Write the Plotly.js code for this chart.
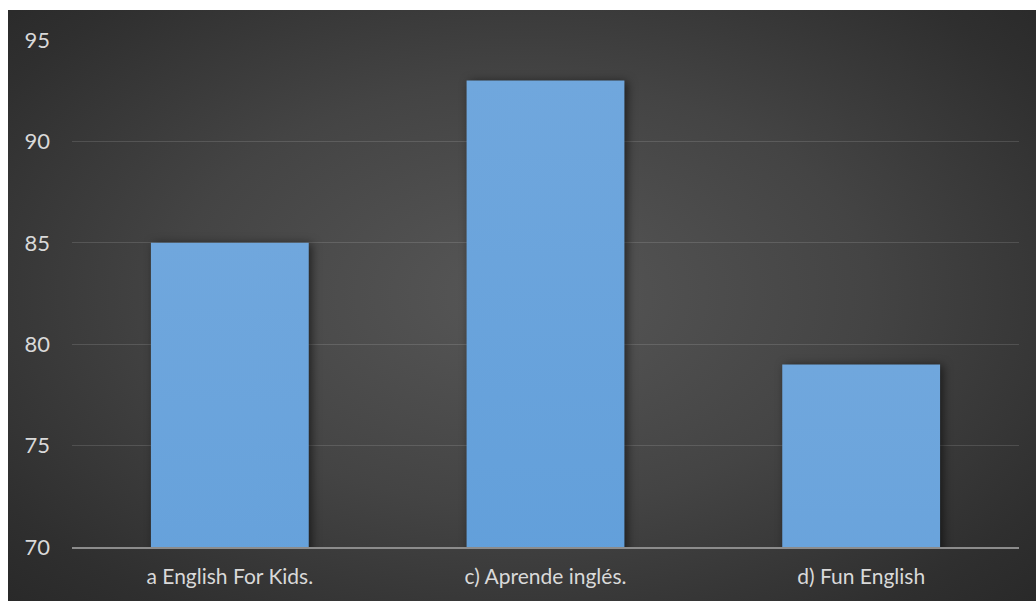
<!DOCTYPE html>
<html>
<head>
<meta charset="utf-8">
<script src="https://cdn.plot.ly/plotly-3.0.1.min.js"></script>
<style>
  html, body { margin: 0; padding: 0; background: #ffffff; }
  #chart {
    position: absolute; left: 8px; top: 10px;
    width: 1028px; height: 591px;
    background: radial-gradient(ellipse 75% 80% at 50% 48%, #575757 0%, #444444 45%, #2f2f2f 80%, #262626 100%);
  }
  #chart .trace.bars .point path {
    filter: drop-shadow(3px 1px 5px rgba(0,0,0,0.55));
  }
</style>
</head>
<body>
<div id="chart"></div>
<script>
// Survey results per app
const categories = ["a English For Kids.", "c) Aprende inglés.", "d) Fun English"];
const values = [85, 93, 79];
const yTicks = [70, 75, 80, 85, 90, 95];

const trace = {
  type: "bar",
  x: categories,
  y: values,
  marker: { color: "#5b9bd5", line: { width: 0 } },
  hoverinfo: "x+y"
};

const layout = {
  width: 1028,
  height: 591,
  margin: { l: 64, r: 17, t: 30, b: 54 },
  paper_bgcolor: "rgba(0,0,0,0)",
  plot_bgcolor: "rgba(0,0,0,0)",
  bargap: 0.5,
  showlegend: false,
  font: { family: "Lato, sans-serif", color: "#d9d9d9" },
  xaxis: {
    showgrid: false,
    showline: true,
    linecolor: "#8c8c8c",
    linewidth: 2,
    ticks: "",
    tickfont: { size: 21, color: "#d9d9d9" },
    ticklabelstandoff: 10
  },
  yaxis: {
    range: [70, 95],
    tickvals: yTicks,
    ticktext: yTicks.map(String),
    showgrid: true,
    gridcolor: "rgba(255,255,255,0.13)",
    gridwidth: 1,
    zeroline: false,
    showline: false,
    ticks: "",
    tickfont: { size: 22, color: "#d9d9d9" },
    ticklabelstandoff: 21
  }
};

Plotly.newPlot("chart", [trace], layout, { displayModeBar: false, staticPlot: true }).then(function (gd) {
  // vertical light-to-deep blue fill for the bars
  const svg = gd.querySelector("svg.main-svg");
  const ns = "http://www.w3.org/2000/svg";
  let defs = svg.querySelector("defs");
  if (!defs) { defs = document.createElementNS(ns, "defs"); svg.insertBefore(defs, svg.firstChild); }
  const grad = document.createElementNS(ns, "linearGradient");
  grad.setAttribute("id", "barFill");
  grad.setAttribute("x1", "0"); grad.setAttribute("y1", "0");
  grad.setAttribute("x2", "0"); grad.setAttribute("y2", "1");
  [["0%", "#70a7dd"], ["50%", "#5598d8"], ["100%", "#4284c3"]].forEach(function (s) {
    const stop = document.createElementNS(ns, "stop");
    stop.setAttribute("offset", s[0]);
    stop.setAttribute("stop-color", s[1]);
    grad.appendChild(stop);
  });
  defs.appendChild(grad);
  gd.querySelectorAll(".trace.bars .point path").forEach(function (p) {
    p.style.fill = "url(#barFill)";
  });
});
</script>
</body>
</html>
